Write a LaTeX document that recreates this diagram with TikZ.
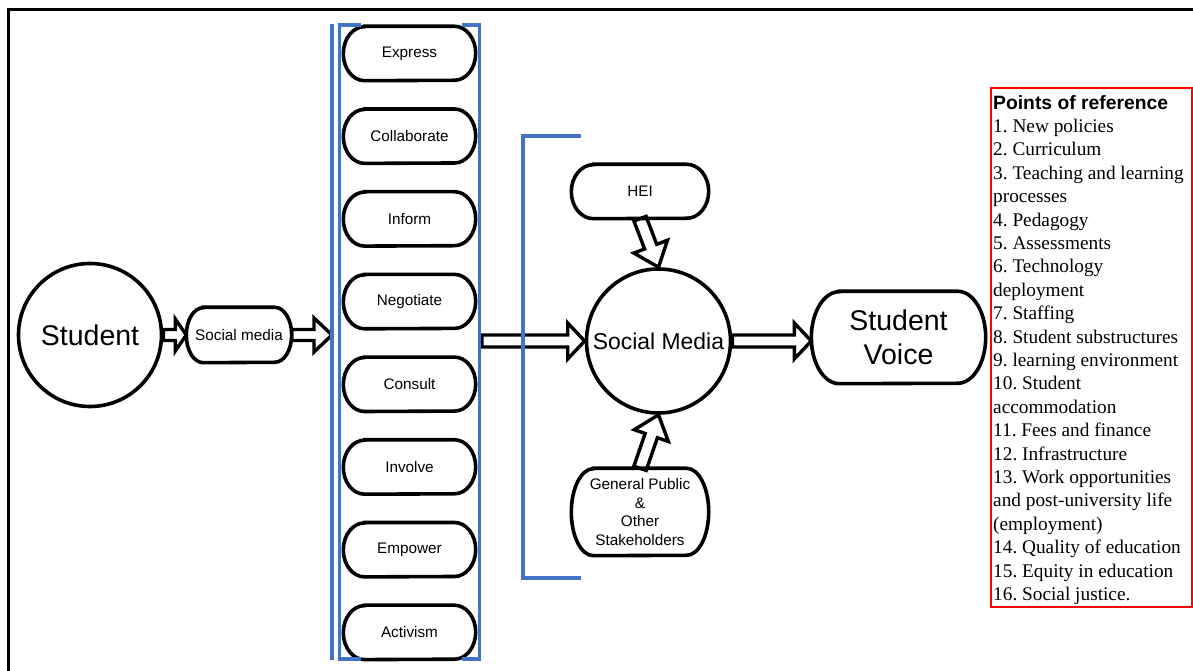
\documentclass[tikz,border=0pt]{standalone}
\usepackage{fontspec}
\setmainfont{Liberation Sans}
\newfontfamily\serifl{Liberation Serif}
\usetikzlibrary{calc}
\definecolor{wblue}{HTML}{4472C4}
\definecolor{wred}{HTML}{FF0000}
\pgfdeclarelayer{bg}
\pgfsetlayers{bg,main}
\frenchspacing
\tikzset{
  pilltext/.style={inner sep=0pt, font=\fontsize{15.3}{18.6}\selectfont, align=center},
  pillline/.style={draw=black, line width=3.6pt},
  circnode/.style={circle, draw=black, line width=3.6pt, inner sep=0pt},
  barrow/.style={draw=black, line width=3.4pt, fill=white, line join=miter},
  bluel/.style={draw=wblue, line width=3.4pt},
  framel/.style={draw=black, line width=3pt},
  redbox/.style={draw=wred, line width=2.4pt, inner sep=0pt},
}
\newcommand{\pillnode}[6][]{%
  \node[pilltext, minimum width=#4, minimum height=#5, #1] (#2) at (#3) {#6};
  \draw[pillline] ([xshift=0.161*#4]#2.north west) -- ([xshift=-0.161*#4]#2.north east)
    arc[start angle=90, end angle=-90, x radius=0.161*#4, y radius=0.5*#5]
    -- ([xshift=0.161*#4]#2.south west)
    arc[start angle=270, end angle=90, x radius=0.161*#4, y radius=0.5*#5] -- cycle;}
\newcommand{\blockarr}[5]{% start, end, shaft half, head half, head length
  \begin{pgfonlayer}{bg}
  \coordinate (bah) at ($(#2)!#5!(#1)$);
  \draw[barrow] ($(#1)!#3!90:(#2)$) -- ($(bah)!#3!-90:(#1)$) -- ($(bah)!#4!-90:(#1)$) -- (#2)
    -- ($(bah)!#4!90:(#1)$) -- ($(bah)!#3!90:(#1)$) -- ($(#1)!#3!-90:(#2)$) -- cycle;
  \end{pgfonlayer}}
\begin{document}
\begin{tikzpicture}[x=1pt,y=1pt]
\useasboundingbox (0,0) rectangle (1193,671);
% outer frame (cropped)
\draw[framel] (8,-10) -- (8,661) -- (1210,661);

% left nodes
\node[circnode, minimum size=143pt, font=\fontsize{28.5}{34}\selectfont] (stud) at (90,336) {Student};
\pillnode{smp}{239,336}{105pt}{55pt}{Social media}

% column of pills
\foreach \t/\nm [count=\i from 0] in {Express/pexp, Collaborate/pcol, Inform/pinf, Negotiate/pneg, Consult/pcon, Involve/pinv, Empower/pemp, Activism/pact}{
  \pillnode{\nm}{409.5,{617.5-82.7*\i}}{132pt}{54pt}{\t}
}

% centre
\node[circnode, minimum size=144pt, font=\fontsize{22.9}{27}\selectfont] (smc) at (658.5,330) {Social Media};
\pillnode{hei}{640,479.5}{137pt}{54pt}{HEI}
\pillnode{gp}{640,159}{137pt}{87pt}{General Public\\\&\\Other\\Stakeholders}
\pillnode[font=\fontsize{28.5}{34}\selectfont]{sv}{898.5,333.5}{174pt}{92pt}{Student\\Voice}

% blue brackets
\draw[bluel] (332,647) -- (332,11);
\draw[bluel] (361,646) -- (339.5,646) -- (339.5,12) -- (361,12);
\draw[bluel] (462,646) -- (479.5,646) -- (479.5,12) -- (462,12);
\draw[bluel] (581,535) -- (523,535) -- (523,93) -- (581,93);

% block arrows
\coordinate (blin) at (332,336);
\coordinate (bout) at (482,330);
\coordinate (svw) at (sv.west |- smc.east);
\blockarr{stud.east}{smp.west}{5.5pt}{16pt}{11pt}
\blockarr{smp.east}{blin}{5.5pt}{17pt}{18pt}
\blockarr{bout}{smc.west}{6pt}{18pt}{17pt}
\blockarr{smc.east}{svw}{6pt}{18pt}{17pt}
\blockarr{hei.south}{smc.north}{6.5pt}{18pt}{22pt}
\blockarr{gp.north}{smc.south}{6.5pt}{18pt}{22pt}

% points of reference
\node[redbox, minimum width=201.5pt, minimum height=519.5pt, anchor=south west] (refbox) at (989.5,62.5) {};
\node[anchor=base west, inner sep=0pt, align=left, font=\serifl\fontsize{19.3}{23.4}\selectfont] (refs) at (993,70.4) {%
{\rmfamily\bfseries Points of reference}\\
1. New policies\\
2. Curriculum\\
3. Teaching and learning\\
processes\\
4. Pedagogy\\
5. Assessments\\
6. Technology\\
deployment\\
7. Staffing\\
8. Student substructures\\
9. learning environment\\
10. Student\\
accommodation\\
11. Fees and finance\\
12. Infrastructure\\
13. Work opportunities\\
and post-university life\\
(employment)\\
14. Quality of education\\
15. Equity in education\\
16. Social justice.};
\end{tikzpicture}
\end{document}
